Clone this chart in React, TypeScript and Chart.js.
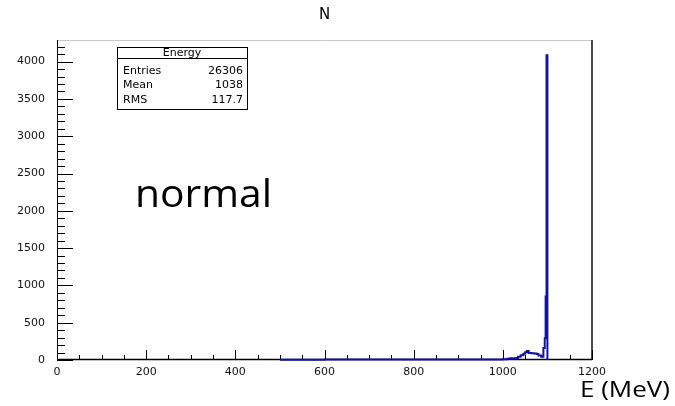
import { useEffect, useRef } from "react";
import { Chart, registerables } from "chart.js";

Chart.register(...registerables);

// Histogram bin low edges (MeV) and contents
const binLowEdges = [500, 600, 700, 800, 900, 1000, 1010, 1016, 1022, 1028, 1034, 1040, 1046, 1050, 1054, 1058, 1064, 1070, 1076, 1080, 1086, 1091, 1094, 1096, 1098, 1100];
const binCounts = [5, 6, 6, 7, 8, 10, 18, 22, 20, 28, 45, 65, 85, 105, 120, 95, 90, 88, 80, 60, 45, 160, 290, 850, 4085, 0];

const xMin = 0;
const xMax = 1200;
const yMin = 0;
const yMax = 4290;
const xTickLabels = [0, 200, 400, 600, 800, 1000, 1200];
const yTickLabels = [0, 500, 1000, 1500, 2000, 2500, 3000, 3500, 4000];
const xMajorStep = 200;
const xMinorStep = 50;
const yMajorStep = 500;
const yMinorStep = 100;

const titleText = "N";
const xAxisText = "E (MeV)";
const noteText = "normal";
const statsTitle = "Energy";
const statsNames = ["Entries", "Mean", "RMS"];
const statsValues = ["26306", "1038", "117.7"];

const LABEL_FONT = "DejaVu Sans";

function fitText(
  ctx: CanvasRenderingContext2D,
  text: string,
  x: number,
  y: number,
  font: string,
  width: number
) {
  ctx.save();
  ctx.font = font;
  const w = ctx.measureText(text).width;
  const s = width / w;
  ctx.translate(x, y);
  ctx.scale(s, 1);
  ctx.textAlign = "left";
  ctx.textBaseline = "alphabetic";
  ctx.fillStyle = "#000";
  ctx.fillText(text, 0, 0);
  ctx.restore();
}

const framePlugin = {
  id: "rootFrame",
  beforeDatasetsDraw(chart: any) {
    const { ctx, chartArea } = chart;
    const xs = chart.scales.x;
    const ys = chart.scales.y;
    const { left, right, top, bottom } = chartArea;
    ctx.save();
    ctx.strokeStyle = "#c8c8c8";
    ctx.lineWidth = 1;
    ctx.beginPath();
    ctx.moveTo(left, top + 0.5);
    ctx.lineTo(right, top + 0.5);
    ctx.stroke();
    ctx.strokeStyle = "#4a4a4a";
    ctx.lineWidth = 2;
    ctx.beginPath();
    ctx.moveTo(right, top);
    ctx.lineTo(right, bottom);
    ctx.stroke();
    ctx.strokeStyle = "#000";
    ctx.lineWidth = 1;
    ctx.beginPath();
    ctx.moveTo(left + 0.5, top);
    ctx.lineTo(left + 0.5, bottom);
    ctx.stroke();
    ctx.lineWidth = 1.5;
    ctx.beginPath();
    ctx.moveTo(left, bottom - 0.5);
    ctx.lineTo(right, bottom - 0.5);
    ctx.stroke();
    ctx.lineWidth = 1;
    for (let v = yMin; v <= yMax; v += yMinorStep) {
      const py = Math.round(ys.getPixelForValue(v)) + 0.5;
      const len = v % yMajorStep === 0 ? 16 : 8;
      ctx.beginPath();
      ctx.moveTo(left, py);
      ctx.lineTo(left + len, py);
      ctx.stroke();
    }
    for (let v = xMin; v <= xMax; v += xMinorStep) {
      const px = Math.round(xs.getPixelForValue(v)) + 0.5;
      const len = v % xMajorStep === 0 ? 10 : 5;
      ctx.beginPath();
      ctx.moveTo(px, bottom);
      ctx.lineTo(px, bottom - len);
      ctx.stroke();
    }
    ctx.restore();
  },
  afterDraw(chart: any) {
    const { ctx, chartArea } = chart;
    ctx.save();
    ctx.fillStyle = "#000";
    ctx.font = `15px "${LABEL_FONT}"`;
    ctx.textAlign = "center";
    ctx.textBaseline = "middle";
    ctx.fillText(titleText, (chartArea.left + chartArea.right) / 2, 15);

    const bx = 117, by = 47, bw = 130, bh = 62;
    ctx.fillStyle = "#fff";
    ctx.fillRect(bx, by, bw, bh);
    ctx.strokeStyle = "#000";
    ctx.lineWidth = 1;
    ctx.strokeRect(bx + 0.5, by + 0.5, bw, bh);
    ctx.beginPath();
    ctx.moveTo(bx, by + 11.5);
    ctx.lineTo(bx + bw, by + 11.5);
    ctx.stroke();
    ctx.fillStyle = "#000";
    ctx.font = `11px "${LABEL_FONT}"`;
    ctx.textAlign = "center";
    ctx.textBaseline = "middle";
    ctx.fillText(statsTitle, bx + bw / 2, by + 6.5);
    const rowsY = [71, 85, 100];
    statsNames.forEach((n, i) => {
      ctx.textAlign = "left";
      ctx.fillText(n, 123, rowsY[i]);
      ctx.textAlign = "right";
      ctx.fillText(statsValues[i], 243, rowsY[i]);
    });
    ctx.restore();

    fitText(ctx, noteText, 135, 207, `38px "Open Sans"`, 137);
    fitText(ctx, xAxisText, 580, 397, `22px "Open Sans"`, 90);
  },
};

export default function App() {
  const ref = useRef<HTMLCanvasElement | null>(null);
  useEffect(() => {
    if (!ref.current) return;
    const data = binLowEdges.map((e, i) => ({ x: e, y: binCounts[i] }));
    const chart = new Chart(ref.current, {
      type: "line",
      data: {
        datasets: [
          {
            data,
            stepped: true,
            borderColor: "#1212a0",
            borderWidth: 2,
            pointRadius: 0,
            fill: false,
            clip: 4,
          } as any,
        ],
      },
      options: {
        animation: false,
        responsive: true,
        maintainAspectRatio: false,
        layout: { padding: { top: 40, right: 83, left: 0, bottom: 0 } },
        plugins: {
          legend: { display: false },
          tooltip: { enabled: false },
          title: { display: false },
        },
        scales: {
          x: {
            type: "linear",
            min: xMin,
            max: xMax,
            grid: { display: false },
            border: { display: false },
            afterBuildTicks: (s: any) => {
              s.ticks = xTickLabels.map((v) => ({ value: v }));
            },
            ticks: {
              padding: -2,
              maxRotation: 0,
              autoSkip: false,
              color: "#111",
              font: { family: LABEL_FONT, size: 11 },
              callback: (v: any) => String(v),
            },
            afterFit: (s: any) => {
              s.height = 46;
            },
          },
          y: {
            type: "linear",
            min: yMin,
            max: yMax,
            grid: { display: false },
            border: { display: false },
            afterBuildTicks: (s: any) => {
              s.ticks = yTickLabels.map((v) => ({ value: v }));
            },
            ticks: {
              padding: 4,
              autoSkip: false,
              color: "#111",
              font: { family: LABEL_FONT, size: 11 },
              callback: (v: any) => String(v),
            },
            afterFit: (s: any) => {
              s.width = 57;
            },
          },
        },
      },
      plugins: [framePlugin],
    });
    return () => chart.destroy();
  }, []);
  return (
    <div style={{ position: "absolute", left: 0, top: 0, width: 675, height: 406, background: "#fff" }}>
      <canvas ref={ref} />
    </div>
  );
}
